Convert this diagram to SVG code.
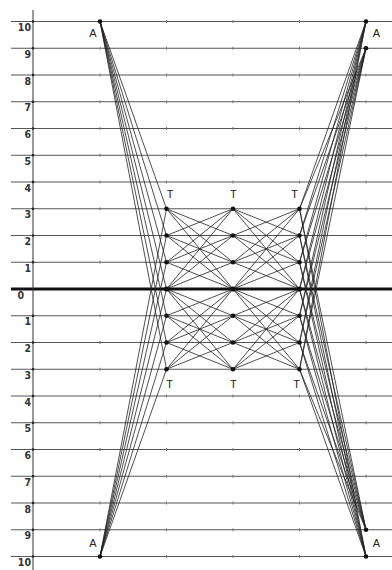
<svg xmlns="http://www.w3.org/2000/svg" width="392" height="570" viewBox="0 0 392 570">
<style>
.grid{stroke:#555;stroke-width:1}
.zero{stroke:#111;stroke-width:3}
.axis{stroke:#333;stroke-width:1}
.tick{stroke:#777;stroke-width:1}
.num{font-family:"DejaVu Sans Condensed","Liberation Sans Narrow","Liberation Sans",sans-serif;font-stretch:condensed;font-size:10.5px;fill:#333;text-anchor:end;font-weight:bold}
.lbl{font-family:"Liberation Sans",Arial,sans-serif;font-size:11px;fill:#222;text-anchor:middle}
.c{stroke:#222;stroke-width:0.8;fill:none}
.n{fill:#111}
</style>
<defs>
<g id="ticks">
<line class="tick" x1="100" y1="-1.5" x2="100" y2="1.5"/>
<line class="tick" x1="166.5" y1="-1.5" x2="166.5" y2="1.5"/>
<line class="tick" x1="233" y1="-1.5" x2="233" y2="1.5"/>
<line class="tick" x1="299.5" y1="-1.5" x2="299.5" y2="1.5"/>
<line class="tick" x1="366" y1="-1.5" x2="366" y2="1.5"/>
<circle cx="33" cy="0" r="1.3" fill="#222"/>
</g>
</defs>
<g id="grid">
<line class="grid" x1="11" y1="21.5" x2="392" y2="21.5"/>
<line class="grid" x1="11" y1="48.25" x2="392" y2="48.25"/>
<line class="grid" x1="11" y1="75" x2="392" y2="75"/>
<line class="grid" x1="11" y1="101.75" x2="392" y2="101.75"/>
<line class="grid" x1="11" y1="128.5" x2="392" y2="128.5"/>
<line class="grid" x1="11" y1="155.25" x2="392" y2="155.25"/>
<line class="grid" x1="11" y1="182" x2="392" y2="182"/>
<line class="grid" x1="11" y1="208.75" x2="392" y2="208.75"/>
<line class="grid" x1="11" y1="235.5" x2="392" y2="235.5"/>
<line class="grid" x1="11" y1="262.25" x2="392" y2="262.25"/>
<line class="zero" x1="11" y1="289" x2="392" y2="289"/>
<line class="grid" x1="11" y1="315.75" x2="392" y2="315.75"/>
<line class="grid" x1="11" y1="342.5" x2="392" y2="342.5"/>
<line class="grid" x1="11" y1="369.25" x2="392" y2="369.25"/>
<line class="grid" x1="11" y1="396" x2="392" y2="396"/>
<line class="grid" x1="11" y1="422.75" x2="392" y2="422.75"/>
<line class="grid" x1="11" y1="449.5" x2="392" y2="449.5"/>
<line class="grid" x1="11" y1="476.25" x2="392" y2="476.25"/>
<line class="grid" x1="11" y1="503" x2="392" y2="503"/>
<line class="grid" x1="11" y1="529.75" x2="392" y2="529.75"/>
<line class="grid" x1="11" y1="556.5" x2="392" y2="556.5"/>
<line class="axis" x1="33" y1="10" x2="33" y2="570"/>
<use href="#ticks" y="21.5"/><use href="#ticks" y="48.25"/><use href="#ticks" y="75"/><use href="#ticks" y="101.75"/>
<use href="#ticks" y="128.5"/><use href="#ticks" y="155.25"/><use href="#ticks" y="182"/><use href="#ticks" y="208.75"/>
<use href="#ticks" y="235.5"/><use href="#ticks" y="262.25"/><use href="#ticks" y="315.75"/><use href="#ticks" y="342.5"/>
<use href="#ticks" y="369.25"/><use href="#ticks" y="396"/><use href="#ticks" y="422.75"/><use href="#ticks" y="449.5"/>
<use href="#ticks" y="476.25"/><use href="#ticks" y="503"/><use href="#ticks" y="529.75"/><use href="#ticks" y="556.5"/>
</g>
<g id="axis-labels">
<text class="num" x="31" y="31">10</text>
<text class="num" x="31" y="57.75">9</text>
<text class="num" x="31" y="84.5">8</text>
<text class="num" x="31" y="111.25">7</text>
<text class="num" x="31" y="138">6</text>
<text class="num" x="31" y="164.75">5</text>
<text class="num" x="31" y="191.5">4</text>
<text class="num" x="31" y="218.25">3</text>
<text class="num" x="31" y="245">2</text>
<text class="num" x="31" y="271.75">1</text>
<text class="num" x="24" y="299">0</text>
<text class="num" x="31" y="325.25">1</text>
<text class="num" x="31" y="352">2</text>
<text class="num" x="31" y="378.75">3</text>
<text class="num" x="31" y="405.5">4</text>
<text class="num" x="31" y="432.25">5</text>
<text class="num" x="31" y="459">6</text>
<text class="num" x="31" y="485.75">7</text>
<text class="num" x="31" y="512.5">8</text>
<text class="num" x="31" y="539.25">9</text>
<text class="num" x="31" y="566">10</text>
</g>
<g id="connectors">
<path class="c" d="M100 21.5L166.5 208.75M100 21.5L166.5 235.5M100 21.5L166.5 262.25M100 21.5L166.5 289M100 21.5L166.5 315.75M100 21.5L166.5 342.5M100 21.5L166.5 369.25"/>
<path class="c" d="M100 556.5L166.5 208.75M100 556.5L166.5 235.5M100 556.5L166.5 262.25M100 556.5L166.5 289M100 556.5L166.5 315.75M100 556.5L166.5 342.5M100 556.5L166.5 369.25"/>
<path class="c" d="M366 21.5L299.5 208.75M366 21.5L299.5 235.5M366 21.5L299.5 262.25M366 21.5L299.5 289M366 21.5L299.5 315.75M366 21.5L299.5 342.5M366 21.5L299.5 369.25"/>
<path class="c" d="M366 48.25L299.5 208.75M366 48.25L299.5 235.5M366 48.25L299.5 262.25M366 48.25L299.5 289M366 48.25L299.5 315.75M366 48.25L299.5 342.5M366 48.25L299.5 369.25"/>
<path class="c" d="M366 529.75L299.5 208.75M366 529.75L299.5 235.5M366 529.75L299.5 262.25M366 529.75L299.5 289M366 529.75L299.5 315.75M366 529.75L299.5 342.5M366 529.75L299.5 369.25"/>
<path class="c" d="M366 556.5L299.5 208.75M366 556.5L299.5 235.5M366 556.5L299.5 262.25M366 556.5L299.5 289M366 556.5L299.5 315.75M366 556.5L299.5 342.5M366 556.5L299.5 369.25"/>
<path class="c" d="M166.5 208.75L233 235.5M166.5 208.75L233 262.25M166.5 208.75L233 289M166.5 235.5L233 208.75M166.5 235.5L233 262.25M166.5 235.5L233 289M166.5 262.25L233 208.75M166.5 262.25L233 235.5M166.5 262.25L233 289M166.5 289L233 208.75M166.5 289L233 235.5M166.5 289L233 262.25"/>
<path class="c" d="M233 208.75L299.5 235.5M233 208.75L299.5 262.25M233 208.75L299.5 289M233 235.5L299.5 208.75M233 235.5L299.5 262.25M233 235.5L299.5 289M233 262.25L299.5 208.75M233 262.25L299.5 235.5M233 262.25L299.5 289M233 289L299.5 208.75M233 289L299.5 235.5M233 289L299.5 262.25"/>
<path class="c" d="M166.5 369.25L233 342.5M166.5 369.25L233 315.75M166.5 369.25L233 289M166.5 342.5L233 369.25M166.5 342.5L233 315.75M166.5 342.5L233 289M166.5 315.75L233 369.25M166.5 315.75L233 342.5M166.5 315.75L233 289M166.5 289L233 369.25M166.5 289L233 342.5M166.5 289L233 315.75"/>
<path class="c" d="M233 369.25L299.5 342.5M233 369.25L299.5 315.75M233 369.25L299.5 289M233 342.5L299.5 369.25M233 342.5L299.5 315.75M233 342.5L299.5 289M233 315.75L299.5 369.25M233 315.75L299.5 342.5M233 315.75L299.5 289M233 289L299.5 369.25M233 289L299.5 342.5M233 289L299.5 315.75"/>
</g>
<g id="A-left-top"><circle class="n" cx="100" cy="21.5" r="2.3"/><text class="lbl" x="93" y="37">A</text></g>
<g id="A-left-bottom"><circle class="n" cx="100" cy="556.5" r="2.3"/><text class="lbl" x="93" y="547">A</text></g>
<g id="A-right-top"><circle class="n" cx="366" cy="21.5" r="2.3"/><circle class="n" cx="366" cy="48.25" r="2.3"/><text class="lbl" x="376.5" y="37">A</text></g>
<g id="A-right-bottom"><circle class="n" cx="366" cy="529.75" r="2.3"/><circle class="n" cx="366" cy="556.5" r="2.3"/><text class="lbl" x="376.5" y="547">A</text></g>
<g id="col1">
<circle class="n" cx="166.5" cy="208.75" r="2.3"/><circle class="n" cx="166.5" cy="235.5" r="2.3"/><circle class="n" cx="166.5" cy="262.25" r="2.3"/><circle class="n" cx="166.5" cy="289" r="2.6"/><circle class="n" cx="166.5" cy="315.75" r="2.3"/><circle class="n" cx="166.5" cy="342.5" r="2.3"/><circle class="n" cx="166.5" cy="369.25" r="2.3"/>
<text class="lbl" x="170" y="198">T</text><text class="lbl" x="169.5" y="388">T</text>
</g>
<g id="col2">
<circle class="n" cx="233" cy="208.75" r="2.3"/><circle class="n" cx="233" cy="235.5" r="2.3"/><circle class="n" cx="233" cy="262.25" r="2.3"/><circle class="n" cx="233" cy="289" r="2.6"/><circle class="n" cx="233" cy="315.75" r="2.3"/><circle class="n" cx="233" cy="342.5" r="2.3"/><circle class="n" cx="233" cy="369.25" r="2.3"/>
<text class="lbl" x="233.3" y="198">T</text><text class="lbl" x="233.3" y="388">T</text>
</g>
<g id="col3">
<circle class="n" cx="299.5" cy="208.75" r="2.3"/><circle class="n" cx="299.5" cy="235.5" r="2.3"/><circle class="n" cx="299.5" cy="262.25" r="2.3"/><circle class="n" cx="299.5" cy="289" r="2.6"/><circle class="n" cx="299.5" cy="315.75" r="2.3"/><circle class="n" cx="299.5" cy="342.5" r="2.3"/><circle class="n" cx="299.5" cy="369.25" r="2.3"/>
<text class="lbl" x="294.5" y="198">T</text><text class="lbl" x="296.5" y="388">T</text>
</g>
</svg>
